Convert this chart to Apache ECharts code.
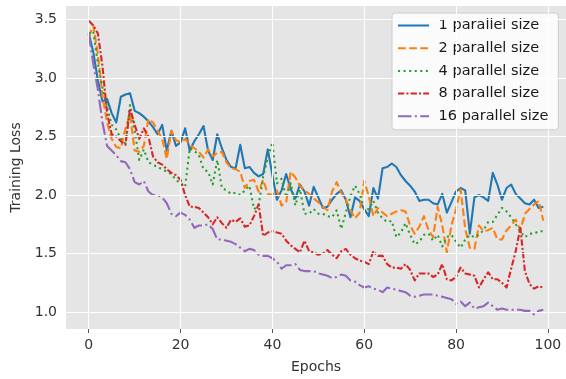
<!DOCTYPE html>
<html>
<head>
<meta charset="utf-8">
<script src="https://cdn.jsdelivr.net/npm/echarts@6/dist/echarts.min.js"></script>
<style>
  html, body { margin: 0; padding: 0; background: #fff; }
  #chart { width: 566px; height: 379px; }
</style>
</head>
<body>
<div id="chart"></div>
<script>
// Epoch index 0..99
const epochs = Array.from({length: 100}, (_, i) => i);

// Training loss, one array per parallel size
const loss1 = [3.38, 3.22, 2.98, 2.80, 2.82, 2.70, 2.62, 2.84, 2.86, 2.87,
  2.72, 2.70, 2.67, 2.63, 2.58, 2.52, 2.60, 2.38, 2.55, 2.42,
  2.45, 2.57, 2.38, 2.46, 2.52, 2.59, 2.38, 2.30, 2.52, 2.40,
  2.30, 2.24, 2.23, 2.43, 2.23, 2.24, 2.19, 2.16, 2.18, 2.39,
  2.17, 1.96, 2.04, 2.18, 2.05, 1.97, 2.09, 2.03, 1.91, 2.07,
  1.98, 1.89, 1.90, 1.96, 2.01, 2.04, 1.96, 1.81, 1.98, 1.95,
  1.88, 1.82, 2.06, 1.97, 2.23, 2.24, 2.27, 2.24, 2.17, 2.12,
  2.08, 2.03, 1.95, 1.96, 1.96, 1.93, 1.92, 2.01, 1.85, 1.94,
  2.03, 2.06, 2.04, 1.67, 1.98, 2.00, 1.98, 1.95, 2.19, 2.09,
  1.96, 2.06, 2.09, 2.01, 1.97, 1.93, 1.92, 1.96, 1.89, 1.90];

const loss2 = [3.35, 3.45, 3.20, 2.85, 2.62, 2.48, 2.41, 2.40, 2.57, 2.69,
  2.38, 2.37, 2.42, 2.65, 2.62, 2.55, 2.48, 2.31, 2.55, 2.47,
  2.45, 2.48, 2.43, 2.40, 2.37, 2.32, 2.39, 2.33, 2.36, 2.37,
  2.28, 2.23, 2.22, 2.20, 2.06, 2.12, 2.13, 2.03, 2.13, 2.01,
  2.00, 2.04, 1.91, 1.94, 2.20, 2.15, 2.08, 2.04, 2.01, 1.97,
  1.94, 1.90, 1.87, 2.03, 2.11, 2.02, 1.96, 1.87, 1.80, 1.85,
  2.12, 1.99, 1.82, 1.89, 1.85, 1.82, 1.84, 1.86, 1.87, 1.86,
  1.74, 1.67, 1.73, 1.82, 1.70, 1.64, 1.90, 1.74, 1.51, 1.74,
  1.88, 2.05, 1.71, 1.55, 1.54, 1.74, 1.69, 1.70, 1.72, 1.62,
  1.62, 1.70, 1.74, 1.79, 1.70, 1.84, 1.88, 1.92, 1.95, 1.78];

const loss4 = [3.38, 3.40, 3.12, 2.92, 2.75, 2.60, 2.56, 2.48, 2.44, 2.77,
  2.55, 2.30, 2.39, 2.28, 2.26, 2.24, 2.22, 2.20, 2.18, 2.13,
  2.10, 2.07, 2.40, 2.38, 2.34, 2.22, 2.20, 2.09, 2.30, 2.06,
  2.04, 2.01, 2.02, 2.00, 2.04, 2.08, 1.88, 1.91, 2.16, 2.32,
  2.45, 2.10, 2.14, 1.98, 2.10, 1.91, 2.05, 1.84, 1.84, 1.88,
  1.84, 1.84, 1.82, 1.81, 1.87, 1.71, 1.85, 1.99, 2.08, 2.01,
  1.88, 1.88, 1.95, 1.85, 1.80, 1.77, 1.78, 1.64, 1.68, 1.76,
  1.66, 1.58, 1.60, 1.66, 1.67, 1.61, 1.66, 1.56, 1.64, 1.66,
  1.60, 1.55, 1.62, 1.66, 1.64, 1.66, 1.70, 1.77, 1.77, 1.83,
  1.89, 1.86, 1.81, 1.75, 1.69, 1.64, 1.67, 1.67, 1.69, 1.69];

const loss8 = [3.49, 3.45, 3.38, 3.10, 2.70, 2.52, 2.50, 2.46, 2.43, 2.74,
  2.60, 2.48, 2.57, 2.50, 2.33, 2.28, 2.26, 2.22, 2.19, 2.17,
  2.13, 2.00, 1.90, 1.90, 1.89, 1.85, 1.81, 1.75, 1.81, 1.76,
  1.72, 1.79, 1.77, 1.80, 1.73, 1.74, 1.82, 1.92, 1.65, 1.68,
  1.69, 1.68, 1.67, 1.61, 1.57, 1.54, 1.51, 1.61, 1.52, 1.51,
  1.49, 1.50, 1.53, 1.49, 1.46, 1.52, 1.54, 1.49, 1.46, 1.44,
  1.43, 1.41, 1.52, 1.48, 1.48, 1.41, 1.38, 1.38, 1.37, 1.41,
  1.36, 1.27, 1.33, 1.33, 1.33, 1.30, 1.32, 1.41, 1.28, 1.27,
  1.30, 1.38, 1.33, 1.32, 1.31, 1.21, 1.28, 1.34, 1.28, 1.28,
  1.25, 1.21, 1.37, 1.52, 1.72, 1.35, 1.24, 1.20, 1.22, 1.21];

const loss16 = [3.38, 3.12, 2.90, 2.62, 2.42, 2.38, 2.34, 2.29, 2.28, 2.22,
  2.11, 2.09, 2.12, 2.03, 2.00, 2.00, 1.98, 1.93, 1.84, 1.82,
  1.85, 1.83, 1.79, 1.72, 1.74, 1.74, 1.75, 1.71, 1.62, 1.62,
  1.61, 1.60, 1.58, 1.55, 1.52, 1.54, 1.53, 1.49, 1.48, 1.48,
  1.46, 1.43, 1.37, 1.40, 1.40, 1.41, 1.36, 1.35, 1.35, 1.35,
  1.33, 1.32, 1.31, 1.29, 1.30, 1.32, 1.31, 1.27, 1.26, 1.23,
  1.21, 1.22, 1.20, 1.19, 1.17, 1.21, 1.20, 1.19, 1.18, 1.17,
  1.14, 1.13, 1.14, 1.15, 1.15, 1.15, 1.14, 1.13, 1.12, 1.11,
  1.07, 1.09, 1.05, 1.08, 1.03, 1.04, 1.05, 1.08, 1.05, 1.02,
  1.03, 1.02, 1.02, 1.02, 1.02, 1.01, 1.01, 0.98, 1.01, 1.02];

const seriesNames = ['1 parallel size', '2 parallel size', '4 parallel size', '8 parallel size', '16 parallel size'];
const xTicks = [0, 20, 40, 60, 80, 100];
const yTicks = [1.0, 1.5, 2.0, 2.5, 3.0, 3.5];

const chart = echarts.init(document.getElementById('chart'));

const FONT = 'DejaVu Sans';
const LW = 2.1;
const colors = ['#1f77b4', '#ff7f0e', '#2ca02c', '#d62728', '#9467bd'];
// matplotlib-like dash patterns scaled by line width
const dashes = [
  'solid',
  [3.7 * LW, 1.6 * LW],
  [1 * LW, 1.65 * LW],
  [3 * LW, 1 * LW, 1 * LW, 1 * LW],
  [6.4 * LW, 1.6 * LW, 1 * LW, 1.6 * LW]
];
const lossData = [loss1, loss2, loss4, loss8, loss16];

const series = lossData.map((arr, k) => ({
  name: seriesNames[k],
  type: 'line',
  data: epochs.map((e, i) => [e, arr[i]]),
  symbol: 'none',
  z: 3,
  color: colors[k],
  // hide the legend dot, keep only the line sample
  itemStyle: { color: colors[k], opacity: 0 },
  lineStyle: { width: LW, color: colors[k], type: dashes[k], cap: 'butt', join: 'round' }
}));

// white grid lines drawn under the data
series.unshift({
  name: 'grid',
  type: 'line',
  data: [],
  z: 1,
  silent: true,
  markLine: {
    silent: true,
    symbol: 'none',
    animation: false,
    label: { show: false },
    lineStyle: { color: '#ffffff', width: 1, type: 'solid' },
    emphasis: { disabled: true },
    data: xTicks.map(v => ({ xAxis: v })).concat(yTicks.map(v => ({ yAxis: v })))
  }
});

const option = {
  animation: false,
  textStyle: { fontFamily: FONT },
  grid: {
    left: 66, right: 0, top: 6, bottom: 49,
    show: true, backgroundColor: '#e5e5e5', borderWidth: 0
  },
  legend: {
    data: seriesNames,
    orient: 'vertical',
    left: 392, top: 13,
    itemWidth: 31, itemHeight: 14, itemGap: 7.7,
    padding: [5, 10, 6, 5],
    backgroundColor: 'rgba(255,255,255,0.85)',
    borderColor: '#cccccc', borderWidth: 1, borderRadius: 3,
    itemStyle: { opacity: 0 },
    formatter: name => ' ' + name,
    textStyle: { fontFamily: FONT, fontSize: 14.5, color: '#1a1a1a' }
  },
  xAxis: {
    type: 'value',
    min: -4.95, max: 103.95,
    name: 'Epochs', nameLocation: 'middle', nameGap: 31,
    nameTextStyle: { fontFamily: FONT, fontSize: 14, color: '#333' },
    axisLine: { show: false },
    axisTick: { show: true, customValues: xTicks, length: 4, lineStyle: { color: '#555' } },
    axisLabel: { customValues: xTicks, margin: 9, fontFamily: FONT, fontSize: 14, color: '#333' },
    splitLine: { show: false }
  },
  yAxis: {
    type: 'value',
    min: 0.855, max: 3.616,
    name: 'Training Loss', nameLocation: 'middle', nameGap: 40,
    nameTextStyle: { fontFamily: FONT, fontSize: 14, color: '#333' },
    axisLine: { show: false },
    axisTick: { show: true, customValues: yTicks, length: 4, lineStyle: { color: '#555' } },
    axisLabel: {
      customValues: yTicks, margin: 9, fontFamily: FONT, fontSize: 14, color: '#333',
      formatter: v => v.toFixed(1)
    },
    splitLine: { show: false }
  },
  series: series
};

chart.setOption(option);
</script>
</body>
</html>
